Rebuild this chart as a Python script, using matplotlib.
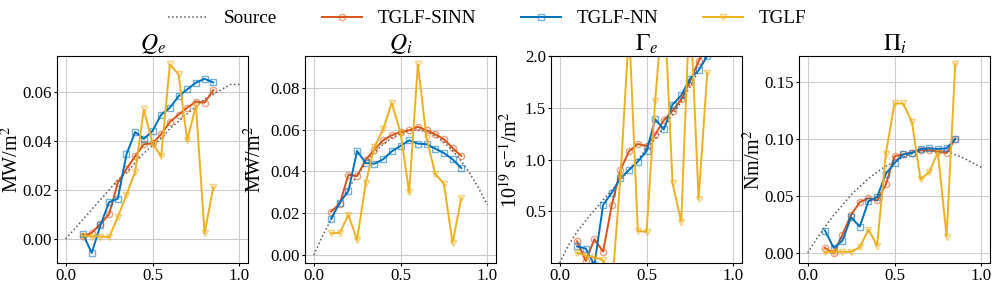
"""Flux profiles: TGLF vs surrogates."""
import matplotlib
matplotlib.use('Agg')
import matplotlib.pyplot as plt
from matplotlib.colors import to_rgba

plt.rcParams['font.family'] = ['Liberation Serif', 'DejaVu Serif']
plt.rcParams['mathtext.fontset'] = 'stix'

# radial grid
rho = [0.10, 0.15, 0.20, 0.25, 0.30, 0.35, 0.40, 0.45,
       0.50, 0.55, 0.60, 0.65, 0.70, 0.75, 0.80, 0.85]
rho_src = [0.0, 0.05, 0.10, 0.15, 0.20, 0.25, 0.30, 0.35, 0.40, 0.45, 0.50,
           0.55, 0.60, 0.65, 0.70, 0.75, 0.80, 0.85, 0.90, 0.95, 1.0]

# Q_e
qe_src = [0.0, 0.004, 0.008, 0.012, 0.016, 0.020, 0.024, 0.027, 0.031, 0.035, 0.038,
          0.041, 0.045, 0.048, 0.051, 0.054, 0.057, 0.059, 0.061, 0.063, 0.063]
qe_sinn = [0.0011, 0.0025, 0.0061, 0.0101, 0.0228, 0.0286, 0.0337, 0.0386,
           0.0390, 0.0427, 0.0477, 0.0507, 0.0535, 0.0560, 0.0556, 0.0607]
qe_nn = [0.0019, -0.0057, 0.0055, 0.0150, 0.0164, 0.0345, 0.0436, 0.0408,
         0.0440, 0.0507, 0.0535, 0.0582, 0.0610, 0.0637, 0.0653, 0.0638]
qe_tglf = [0.0014, 0.0010, 0.0010, 0.0007, 0.0089, 0.0181, 0.0273, 0.0528,
           0.0389, 0.0337, 0.0712, 0.0671, 0.0402, 0.0544, 0.0023, 0.0211]

# Q_i
qi_src = [0.0, 0.009, 0.017, 0.025, 0.032, 0.038, 0.044, 0.049, 0.053, 0.056, 0.058,
          0.0595, 0.0598, 0.059, 0.057, 0.054, 0.050, 0.045, 0.039, 0.032, 0.024]
qi_sinn = [0.0208, 0.0245, 0.0384, 0.0378, 0.0456, 0.0504, 0.0549, 0.0573,
           0.0589, 0.0597, 0.0613, 0.0597, 0.0578, 0.0554, 0.0512, 0.0474]
qi_nn = [0.0173, 0.0250, 0.0306, 0.0498, 0.0440, 0.0437, 0.0458, 0.0496,
         0.0522, 0.0549, 0.0533, 0.0530, 0.0509, 0.0488, 0.0458, 0.0416]
qi_tglf = [0.0104, 0.0106, 0.0192, 0.0072, 0.0346, 0.0517, 0.0602, 0.0728,
           0.0586, 0.0301, 0.0912, 0.0560, 0.0389, 0.0341, 0.0058, 0.0272]

# Gamma_e
ge_src = [0.0, 0.17, 0.30, 0.41, 0.51, 0.61, 0.70, 0.80, 0.90, 1.00, 1.10,
          1.20, 1.31, 1.43, 1.56, 1.70, 1.86, 2.02, 2.20, 2.40, 2.60]
ge_sinn = [0.21, 0.02, 0.23, 0.11, 0.56, 0.90, 1.08, 1.15,
           1.13, 1.24, 1.38, 1.47, 1.58, 1.75, 1.95, 2.10]
ge_nn = [0.16, 0.14, -0.02, 0.56, 0.68, 0.82, 0.90, 0.98,
         1.08, 1.39, 1.29, 1.53, 1.62, 1.78, 1.86, 2.00]
ge_tglf = [0.10, 0.07, 0.055, 0.03, -0.26, 0.83, 2.27, 0.31,
           0.30, 1.57, 2.60, 0.77, 0.40, 2.55, 0.62, 1.84]

# Pi_i
pi_src = [0.0, 0.012, 0.023, 0.033, 0.042, 0.051, 0.058, 0.065, 0.071, 0.076, 0.080,
          0.084, 0.087, 0.089, 0.090, 0.090, 0.089, 0.086, 0.083, 0.079, 0.075]
pi_sinn = [0.0044, -0.0003, 0.0160, 0.0334, 0.0445, 0.0480, 0.0460, 0.0600,
           0.0847, 0.0864, 0.0880, 0.0900, 0.0900, 0.0890, 0.0876, 0.1000]
pi_nn = [0.0196, 0.0044, 0.0108, 0.0313, 0.0231, 0.0454, 0.0490, 0.0694,
         0.0788, 0.0864, 0.0876, 0.0911, 0.0917, 0.0911, 0.0917, 0.1000]
pi_tglf = [0.0006, 0.0010, 0.0010, 0.0010, 0.0050, 0.0205, 0.0064, 0.0870,
           0.1310, 0.1310, 0.1150, 0.0645, 0.0710, 0.0880, 0.0144, 0.1655]

panels = [
    ('$Q_e$', 'MW/m$^2$', qe_src, qe_sinn, qe_nn, qe_tglf, (-0.0098, 0.0746), [0.0, 0.02, 0.04, 0.06]),
    ('$Q_i$', 'MW/m$^2$', qi_src, qi_sinn, qi_nn, qi_tglf, (-0.0038, 0.0952), [0.0, 0.02, 0.04, 0.06, 0.08]),
    (r'$\Gamma_e$', '10$^{19}$ s$^{-1}$/m$^2$', ge_src, ge_sinn, ge_nn, ge_tglf, (0.0, 2.0), [0.5, 1.0, 1.5, 2.0]),
    (r'$\Pi_i$', 'Nm/m$^2$', pi_src, pi_sinn, pi_nn, pi_tglf, (-0.0088, 0.1726), [0.0, 0.05, 0.10, 0.15]),
]

c_sinn = '#D95319'
c_nn = '#0072BD'
c_tglf = '#EDB120'

W, H = 996, 286
fig = plt.figure(figsize=(W / 100, H / 100), dpi=100)
lefts = [57, 305, 551, 799]
label_gaps = [34, 39, 29, 34]  # px from left spine to ylabel
handles = None
for left, gap, (title, ylabel, src, sinn, nn, tglf, ylim, yticks) in zip(lefts, label_gaps, panels):
    ax = fig.add_axes([left / W, (H - 263) / H, 191 / W, (263 - 56) / H])
    h0, = ax.plot(rho_src, src, ':', color='0.35', lw=1.1, label='Source')
    h1, = ax.plot(rho, sinn, '-o', color=c_sinn, lw=1.4, ms=4.5, mfc='none',
                  mec=to_rgba(c_sinn, 0.55), mew=1.0, label='TGLF-SINN')
    h2, = ax.plot(rho, nn, '-s', color=c_nn, lw=1.4, ms=5, mfc='none',
                  mec=to_rgba(c_nn, 0.55), mew=1.0, label='TGLF-NN')
    h3, = ax.plot(rho, tglf, '-v', color=c_tglf, lw=1.4, ms=5, mfc='none',
                  mec=to_rgba(c_tglf, 0.6), mew=1.0, label='TGLF')
    handles = [h0, h1, h2, h3]
    ax.set_xlim(-0.05, 1.05)
    ax.set_ylim(*ylim)
    ax.set_xticks([0.0, 0.5, 1.0])
    ax.set_yticks(yticks)
    ax.grid(True, color='0.8', lw=0.8)
    ax.tick_params(labelsize=12.2, pad=1, length=2.5)
    ax.set_title(title, fontsize=17, pad=2)
    ax.set_ylabel(ylabel, fontsize=14.5)
    ax.yaxis.set_label_coords(-gap / 191, 0.5)

fig.legend(handles=handles, loc='center', bbox_to_anchor=(0.489, 0.935), ncol=4,
           frameon=False, fontsize=13.8, handlelength=2.1, handletextpad=0.8,
           columnspacing=2.35)

plt.savefig('out.png', dpi=100)
